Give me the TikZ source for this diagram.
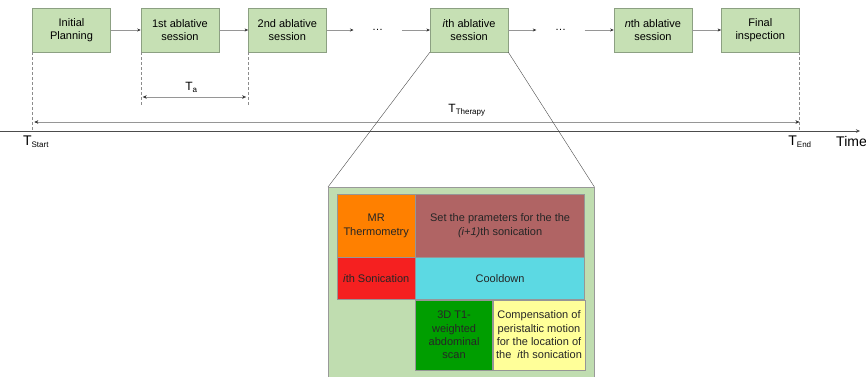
\documentclass[tikz,border=0pt]{standalone}
\usepackage{fontspec}
\setmainfont{Liberation Sans}
\usepackage{xcolor}
\usepackage{tikz}
\usetikzlibrary{arrows.meta, positioning}
\definecolor{StageFill}{RGB}{198,224,180}
\definecolor{StageLine}{RGB}{140,160,130}
\definecolor{PanelFill}{RGB}{192,221,176}
\definecolor{CellLine}{RGB}{150,150,150}
\definecolor{LinkGray}{RGB}{150,150,150}
\definecolor{ThermoOrange}{RGB}{255,128,0}
\definecolor{ParamRose}{RGB}{176,100,100}
\definecolor{SonicRed}{RGB}{245,32,32}
\definecolor{CoolCyan}{RGB}{92,217,227}
\definecolor{ScanGreen}{RGB}{0,158,0}
\definecolor{CompYellow}{RGB}{255,255,153}
\newcommand{\tsub}[1]{\textsubscript{\fontsize{8}{9}\selectfont #1}}

\begin{document}
\begin{tikzpicture}[
  x=1pt, y=-1pt,
  stage/.style={draw=StageLine, fill=StageFill, minimum width=78pt, minimum height=44pt,
                font=\fontsize{11}{13}\selectfont, align=center, inner sep=1pt},
  gap/.style={minimum width=48pt, minimum height=44pt, inner sep=0pt, font=\fontsize{11}{13}\selectfont},
  cell/.style={draw=CellLine, align=center, inner sep=0pt, font=\fontsize{11}{13.3}\selectfont,
               text=black!85},
  link/.style={draw=LinkGray, -{Stealth[length=3.5pt, width=3pt, color=black!80]}},
  span/.style={draw=LinkGray, {Stealth[length=4pt, width=3.5pt, color=black!80]}-{Stealth[length=4pt, width=3.5pt, color=black!80]}},
  guide/.style={draw=black!45, densely dashed, line width=0.4pt},
  tlabel/.style={font=\fontsize{12}{14}\selectfont},
  axislabel/.style={font=\fontsize{14}{16}\selectfont},
]
\useasboundingbox (0,0) rectangle (866,376);
%% Sessions
\node[stage] (plan) at (71.5,30) {Initial\\Planning};
\node[stage, right=30pt of plan] (s1) {1st ablative\\session};
\node[stage, right=29pt of s1] (s2) {2nd ablative\\session};
\node[gap, right=27pt of s2] (dots1) {\dots};
\node[stage, right=28pt of dots1] (si) {\textit{i}th ablative\\session};
\node[gap, right=28pt of si] (dots2) {\dots};
\node[stage, right=29pt of dots2] (sn) {\textit{n}th ablative\\session};
\node[stage, right=29pt of sn] (final) {Final\\inspection};
%% Arrows
\draw[link] (plan) -- (s1);
\draw[link] (s1) -- (s2);
\draw[link] (s2) -- (dots1);
\draw[link] (dots1) -- (si);
\draw[link] (si) -- (dots2);
\draw[link] (dots2) -- (sn);
\draw[link] (sn) -- (final);
%% Time axis
\coordinate (t0) at (0,131);
\coordinate (t1) at (860,131);
\draw[draw=black!70, -{Stealth[length=4pt, width=3.5pt]}] (t0) -- (t1);
\coordinate (tstart) at (plan.south west |- 0,131);
\coordinate (tend) at (final.south east |- 0,131);
\coordinate (ta0) at (s1.south west |- 0,107);
\coordinate (ta1) at (s2.south west |- 0,107);
\draw[guide] (plan.south west) -- (tstart);
\draw[guide] (s1.south west) -- (ta0);
\draw[guide] (s2.south west) -- (ta1);
\draw[guide] (final.south east) -- (tend);
\coordinate (ta0a) at ([xshift=2pt]s1.south west |- 0,97);
\coordinate (ta1a) at ([xshift=-2pt]s2.south west |- 0,97);
\draw[span] (ta0a) -- (ta1a) node[midway, above=1pt, xshift=-3pt, tlabel] (ta) {T\tsub{a}};
\coordinate (th0) at ([xshift=2pt]plan.south west |- 0,122);
\coordinate (th1) at (final.south east |- 0,122);
\draw[span] (th0) -- (th1);
\node[tlabel] (tther) at (467,110) {T\tsub{Therapy}};
\node[axislabel] (tsl) at (36,142) {T\tsub{Start}};
\node[axislabel] (tel) at (800,142) {T\tsub{End}};
\node[axislabel, anchor=west, inner sep=0pt] (time) at (836,141) {Time};
%% Zoom of the ith session
\node[draw=black!40, fill=PanelFill, minimum width=266pt, minimum height=200pt,
      anchor=north west, inner sep=0pt] (panel) at (328,187) {};
\draw[draw=black!70, line width=0.4pt] (si.south west) -- (panel.north west);
\draw[draw=black!70, line width=0.4pt] (si.south east) -- (panel.north east);
\node[cell, fill=ThermoOrange, minimum width=78pt, minimum height=63pt,
      anchor=north west] (mr) at (337,194) {MR\\Thermometry};
\node[cell, fill=ParamRose, minimum width=169pt, minimum height=63pt,
      right=0pt of mr] (param) {Set the prameters for the the\\\textit{(i+1)}th sonication};
\node[cell, fill=SonicRed, minimum width=78pt, minimum height=42pt,
      below=0pt of mr] (sonic) {\textit{i}th Sonication};
\node[cell, fill=CoolCyan, minimum width=169pt, minimum height=42pt,
      right=0pt of sonic] (cool) {Cooldown};
\node[cell, fill=ScanGreen, minimum width=77pt, minimum height=70pt,
      anchor=north west] (scan) at (cool.south west) {3D T1-\\weighted\\abdominal\\scan};
\node[cell, fill=CompYellow, minimum width=92pt, minimum height=70pt,
      right=0pt of scan] (comp) {Compensation of\\peristaltic motion\\for the location of\\the\ \ \textit{i}th sonication};
\end{tikzpicture}
\end{document}
